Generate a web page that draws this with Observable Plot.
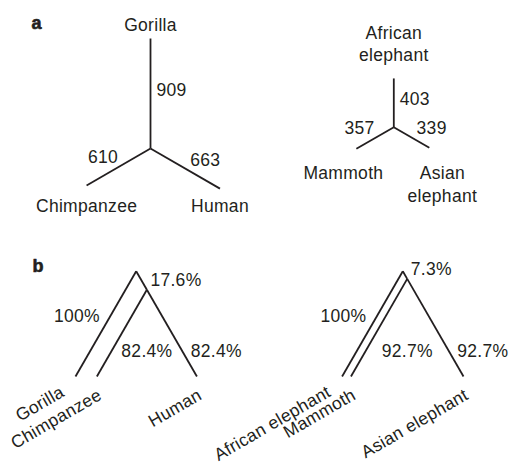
<!DOCTYPE html>
<html><head><meta charset="utf-8">
<script src="https://cdn.jsdelivr.net/npm/d3@7"></script>
<script src="https://cdn.jsdelivr.net/npm/@observablehq/plot@0.6"></script>
<style>
html,body{margin:0;padding:0;background:#fff;}
#chart svg text{letter-spacing:0.3px;}
</style></head><body><div id="chart"></div>
<script>
// ---- Panel a: unrooted trees (branch lengths) ----
const primateTaxa = ["Gorilla", "Chimpanzee", "Human"];
const primateBranchLengths = [909, 610, 663];
const elephantTaxa = ["African\nelephant", "Mammoth", "Asian\nelephant"];
const elephantBranchLengths = [403, 357, 339];
// ---- Panel b: rooted trees (branch support, %) : outgroup, internal, sister 1, sister 2 ----
const primateCladeTaxa = ["Gorilla", "Chimpanzee", "Human"];
const primateSupport = [100, 17.6, 82.4, 82.4];
const elephantCladeTaxa = ["African elephant", "Mammoth", "Asian elephant"];
const elephantSupport = [100, 7.3, 92.7, 92.7];
const panelLabels = ["a", "b"];

// ---- layout ----
const W = 511, H = 470;
const INK = "#231f20";
const FS = 17.5;
const K = 0.121;                 // layout units per unit of branch length
const ANGLES = [90, 210, 330];   // first taxon up, others 120° apart

const branches = [];
const labels = [];

function unrooted(taxa, lengths, cx, cy, o) {
  const tips = taxa.map((t, i) => {
    const a = ANGLES[i] * Math.PI / 180, L = lengths[i] * K;
    return {i, taxon: t, len: lengths[i], x: cx + L * Math.cos(a), y: cy - L * Math.sin(a)};
  });
  const lowY = d3.max(tips.slice(1), d => d.y);
  tips.forEach(t => {
    branches.push({x1: cx, y1: cy, x2: t.x, y2: t.y});
    const mx = (cx + t.x) / 2, my = (cy + t.y) / 2;
    if (t.i === 0) {
      labels.push({text: t.taxon, x: t.x, y: t.y - (t.taxon.includes("\n") ? 17 : 8), anchor: "middle", line: "bottom"});
      labels.push({text: String(t.len), x: cx + 6, y: my + 2, anchor: "start", line: "bottom"});
    } else {
      const side = t.i === 1 ? -1 : 1;
      labels.push({text: t.taxon, x: t.x + side * o.spread, y: lowY + o.gap, anchor: "middle", line: "top"});
      if (side < 0) labels.push({text: String(t.len), x: mx - 0.5, y: my - 4, anchor: "end", line: "bottom"});
      else labels.push({text: String(t.len), x: mx + 5, y: my - 3, anchor: "start", line: "bottom"});
    }
  });
}

function rooted(taxa, support, ax, ay) {
  const w = 60.7, h = 105.3; // extent of a 100% branch
  const p = v => v / 100;
  const tipOut = {x: ax - w * p(support[0]), y: ay + h * p(support[0])};
  const node = {x: ax + w * p(support[1]), y: ay + h * p(support[1])};
  const tipS1 = {x: node.x - w * p(support[2]), y: node.y + h * p(support[2])};
  const tipS2 = {x: node.x + w * p(support[3]), y: node.y + h * p(support[3])};
  branches.push({x1: ax, y1: ay, x2: tipOut.x, y2: tipOut.y});
  branches.push({x1: ax, y1: ay, x2: node.x, y2: node.y});
  branches.push({x1: node.x, y1: node.y, x2: tipS1.x, y2: tipS1.y});
  branches.push({x1: node.x, y1: node.y, x2: tipS2.x, y2: tipS2.y});
  const pct = v => `${v}%`;
  const mo = {x: (ax + tipOut.x) / 2, y: (ay + tipOut.y) / 2};
  labels.push({text: pct(support[0]), x: mo.x - 6, y: mo.y - 1.7, anchor: "end", line: "bottom"});
  labels.push({text: pct(support[1]), x: node.x + 3.5, y: node.y - 3.5, anchor: "start", line: "bottom"});
  const yb = ay + 0.815 * h;
  const xRight = node.x + (tipS2.x - node.x) * (yb - node.y) / (tipS2.y - node.y);
  const xInner = node.x + (tipS1.x - node.x) * (yb - node.y) / (tipS1.y - node.y);
  labels.push({text: pct(support[2]), x: (xInner + xRight) / 2, y: yb, anchor: "middle", line: "bottom"});
  labels.push({text: pct(support[3]), x: xRight + 5, y: yb, anchor: "start", line: "bottom"});
  labels.push({text: taxa[0], x: tipOut.x - 10, y: tipOut.y + 19, anchor: "end", line: "bottom", rotate: -30});
  labels.push({text: taxa[1], x: tipS1.x + 6, y: tipS1.y + 22, anchor: "end", line: "bottom", rotate: -30});
  labels.push({text: taxa[2], x: tipS2.x + 6, y: tipS2.y + 22, anchor: "end", line: "bottom", rotate: -30});
}

unrooted(primateTaxa, primateBranchLengths, 150, 148, {spread: 0, gap: 7.5});
unrooted(elephantTaxa, elephantBranchLengths, 393.3, 126.7, {spread: 13, gap: 14});
rooted(primateCladeTaxa, primateSupport, 135.7, 270.7);
rooted(elephantCladeTaxa, elephantSupport, 402.3, 270.7);

const panelPos = [{x: 31, y: 28}, {x: 32, y: 271.5}];
const panelData = panelLabels.map((t, i) => ({text: t, ...panelPos[i]}));

function textMarks(arr) {
  const groups = d3.group(arr, d => `${d.anchor}|${d.line}|${d.rotate || 0}`);
  return Array.from(groups.values(), g => Plot.text(g, {
    x: "x", y: "y", text: "text",
    textAnchor: g[0].anchor, lineAnchor: g[0].line, rotate: g[0].rotate || 0,
    fontSize: FS, lineHeight: 1.3, fill: INK
  }));
}

const chart = Plot.plot({
  width: W, height: H, margin: 0,
  x: {domain: [0, W], range: [0, W], axis: null},
  y: {domain: [0, H], range: [0, H], axis: null},
  style: {fontFamily: "'Liberation Sans', Arial, Helvetica, sans-serif", background: "#fff", color: INK},
  marks: [
    Plot.link(branches, {x1: "x1", y1: "y1", x2: "x2", y2: "y2", stroke: INK, strokeWidth: 1.8}),
    ...textMarks(labels),
    Plot.text(panelData, {x: "x", y: "y", text: "text", textAnchor: "start", lineAnchor: "bottom",
      fontSize: 18, fontWeight: "bold", fill: INK, stroke: INK, strokeWidth: 0.6})
  ]
});
document.getElementById("chart").appendChild(chart);
</script></body></html>
